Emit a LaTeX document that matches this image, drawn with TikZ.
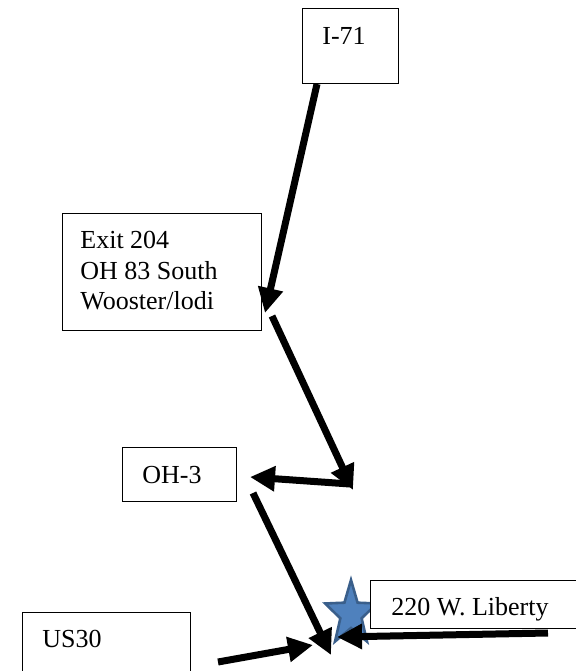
\documentclass[tikz,border=0pt]{standalone}
\usepackage{fontspec}
\setmainfont{Liberation Serif}
\usetikzlibrary{arrows.meta}
\definecolor{starfill}{HTML}{4F81BD}
\definecolor{starline}{HTML}{3A5F8B}
\begin{document}
\begin{tikzpicture}[x=0.5pt,y=-0.5pt,
  box/.style={draw=black, line width=0.6pt, fill=white, inner sep=0pt, anchor=north west},
  lbl/.style={inner sep=0pt, font=\fontsize{13}{15.2}\selectfont},
  road/.style={line width=3.5pt, -{Triangle[length=12.5pt,width=12pt]}},
  starmark/.style={fill=starfill, draw=starline, line width=1.3pt, line join=miter}
]
\useasboundingbox (0,0) rectangle (575,671);
% boxes
\node[box, minimum width=48pt, minimum height=37.5pt] (i71) at (302,8) {};
\node[box, minimum width=99.5pt, minimum height=58.5pt] (exit) at (62,213) {};
\node[box, minimum width=57pt, minimum height=27pt] (oh3) at (122,447) {};
\node[box, minimum width=84pt, minimum height=40pt] (us30) at (22,612) {};
% star
\begin{scope}[shift={(351,614)}, xscale=0.8]
  \draw[starmark] (-90:34) -- (-54:14) -- (-18:34) -- (18:14) -- (54:34)
    -- (90:14) -- (126:34) -- (162:14) -- (198:34) -- (234:14) -- cycle;
\end{scope}
% destination
\node[box, minimum width=107.5pt, minimum height=24pt] (dest) at (370,580) {};
% texts
\node[lbl, anchor=base west] (i71t) at (322,44) {I-71};
\node[lbl, anchor=north west, align=left] (exitt) at (80,231) {Exit 204\\OH 83 South\\Wooster/lodi};
\node[lbl, anchor=base west] (oh3t) at (142,483) {OH-3};
\node[lbl, anchor=base west] (us30t) at (42,647) {US30};
\node[lbl, anchor=base west] (destt) at (391,615) {220 W. Liberty};
% connector end points
\coordinate (a1s) at (317,84);
\coordinate (a1e) at (265,313);
\coordinate (a2s) at (272,316);
\coordinate (a2e) at (353,490);
\coordinate (a3s) at (350,484);
\coordinate (a3e) at (250,477);
\coordinate (a4s) at (253,493);
\coordinate (a4e) at (331,655);
\coordinate (a5s) at (218,662);
\coordinate (a5e) at (313,645);
\coordinate (a6s) at (548,633);
\coordinate (a6e) at (337,637);
% connectors
\draw[road] (a1s) -- (a1e);
\draw[road] (a2s) -- (a2e);
\draw[road] (a3s) -- (a3e);
\draw[road] (a4s) -- (a4e);
\draw[road] (a5s) -- (a5e);
\draw[road] (a6s) -- (a6e);
\end{tikzpicture}
\end{document}
